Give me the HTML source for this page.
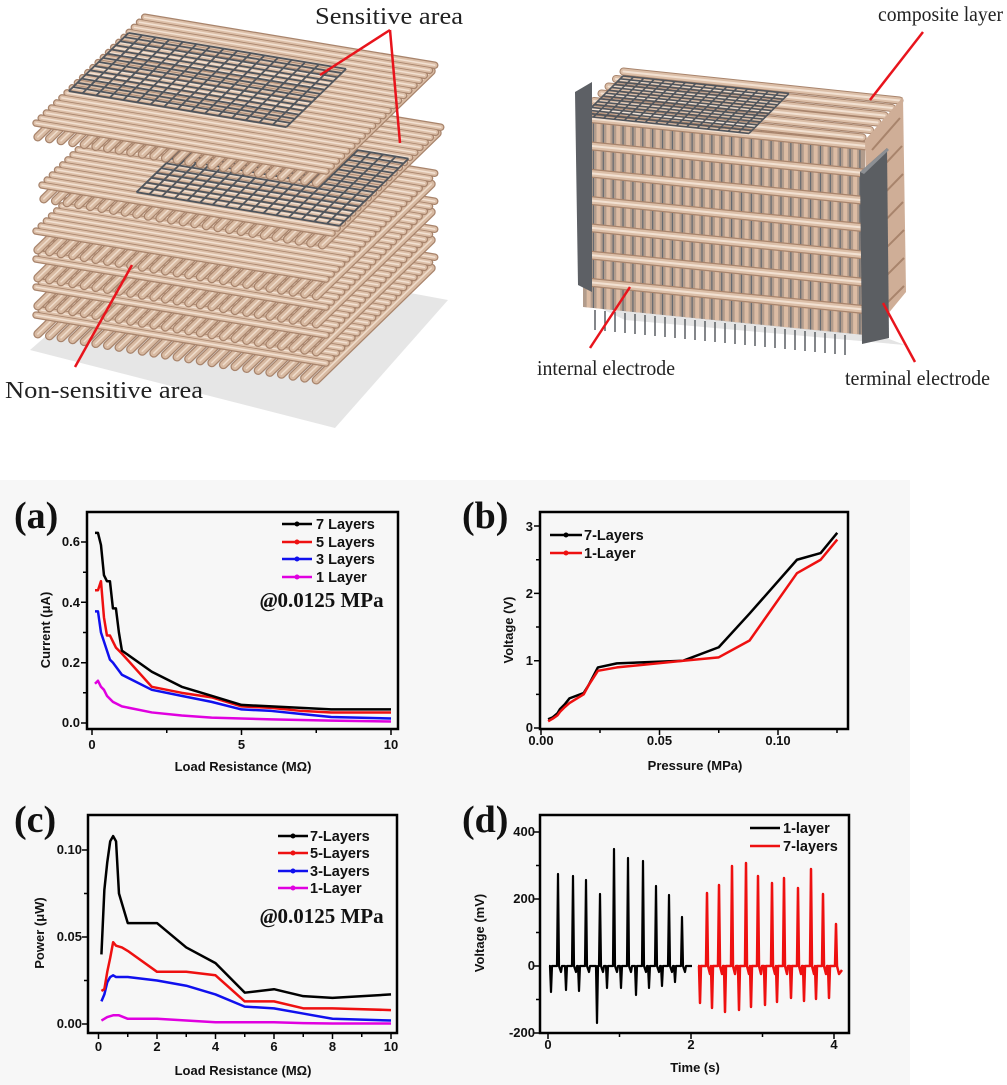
<!DOCTYPE html>
<html><head><meta charset="utf-8"><style>
html,body{margin:0;padding:0;background:#fff}
svg{display:block}
.t{font-family:"Liberation Sans",sans-serif;font-weight:bold;font-size:13px;fill:#111}
.lg{font-family:"Liberation Sans",sans-serif;font-weight:bold;font-size:14.5px;fill:#111}
.pl{font-family:"Liberation Serif",serif;font-weight:bold;font-size:38px;fill:#111}
.mp{font-family:"Liberation Serif",serif;font-weight:bold;font-size:21px;fill:#111}
.lab{font-family:"Liberation Serif",serif;font-size:24px;fill:#222}
.ns{fill:none;vector-effect:non-scaling-stroke;stroke-linejoin:round}
</style></head><body>
<svg width="1007" height="1085" viewBox="0 0 1007 1085" xmlns="http://www.w3.org/2000/svg">
<defs>
<path id="rodsU" class="ns" stroke-linecap="round" d="M0,0.02H1M0,0.065H1M0,0.11H1M0,0.155H1M0,0.2H1M0,0.245H1M0,0.29H1M0,0.335H1M0,0.38H1M0,0.425H1M0,0.47H1M0,0.515H1M0,0.56H1M0,0.605H1M0,0.65H1M0,0.695H1M0,0.74H1M0,0.785H1M0,0.83H1M0,0.875H1M0,0.92H1M0,0.965H1"/>
<path id="rodsV" class="ns" stroke-linecap="round" d="M0.02,0V1M0.06,0V1M0.1,0V1M0.14,0V1M0.18,0V1M0.22,0V1M0.26,0V1M0.3,0V1M0.34,0V1M0.38,0V1M0.42,0V1M0.46,0V1M0.5,0V1M0.54,0V1M0.58,0V1M0.62,0V1M0.66,0V1M0.7,0V1M0.74,0V1M0.78,0V1M0.82,0V1M0.86,0V1M0.9,0V1M0.94,0V1M0.98,0V1"/>
<path id="grid" class="ns" d="M0,0H1M0,0.0714H1M0,0.143H1M0,0.214H1M0,0.286H1M0,0.357H1M0,0.429H1M0,0.5H1M0,0.571H1M0,0.643H1M0,0.714H1M0,0.786H1M0,0.857H1M0,0.929H1M0,1H1M0,0V1M0.0625,0V1M0.125,0V1M0.1875,0V1M0.25,0V1M0.3125,0V1M0.375,0V1M0.4375,0V1M0.5,0V1M0.5625,0V1M0.625,0V1M0.6875,0V1M0.75,0V1M0.8125,0V1M0.875,0V1M0.9375,0V1M1,0V1"/>
<g id="layU"><use href="#rodsU" stroke="#a8846c" stroke-width="7.5"/><use href="#rodsU" stroke="#dcbfa8" stroke-width="5"/><use href="#rodsU" stroke="#f2e1d2" stroke-width="1.5"/></g>
<g id="layV"><use href="#rodsV" stroke="#a8846c" stroke-width="9"/><use href="#rodsV" stroke="#d8baa2" stroke-width="6.5"/><use href="#rodsV" stroke="#efdccb" stroke-width="1.5"/></g>
<path id="rows" class="ns" stroke-linecap="round" d="M0,0.03H1M0,0.17H1M0,0.31H1M0,0.45H1M0,0.59H1M0,0.73H1M0,0.87H1"/>
<path id="vr" class="ns" d="M0.02,0V1M0.055,0V1M0.09,0V1M0.125,0V1M0.16,0V1M0.195,0V1M0.23,0V1M0.265,0V1M0.3,0V1M0.335,0V1M0.37,0V1M0.405,0V1M0.44,0V1M0.475,0V1M0.51,0V1M0.545,0V1M0.58,0V1M0.615,0V1M0.65,0V1M0.685,0V1M0.72,0V1M0.755,0V1M0.79,0V1M0.825,0V1M0.86,0V1M0.895,0V1M0.93,0V1M0.965,0V1"/>
<path id="rodsT" class="ns" stroke-linecap="round" d="M0,0.08H1M0,0.25H1M0,0.42H1M0,0.58H1M0,0.75H1M0,0.92H1"/>
</defs>
<rect width="1007" height="1085" fill="#fff"/>

<polygon points="30,350 150,245 448,300 335,428" fill="#e6e6e6"/>
<use href="#layV" transform="matrix(290,48,-115,112,147,221)"/>
<use href="#layU" transform="matrix(290,48,-115,112,147,207)"/>
<use href="#layV" transform="matrix(290,48,-115,112,147,193)"/>
<use href="#layU" transform="matrix(290,48,-115,112,147,179)"/>
<use href="#layV" transform="matrix(290,48,-115,112,147,165)"/>
<use href="#layU" transform="matrix(290,48,-115,112,147,151)"/>
<use href="#layV" transform="matrix(290,48,-115,112,147,137)"/>
<use href="#layU" transform="matrix(290,48,-115,112,147,123)"/>
<use href="#grid" stroke="#50555c" stroke-width="1.8" transform="matrix(188.5,31.2,-40.25,39.2,176,127.8)"/>
<use href="#layV" transform="matrix(290,48,-115,112,153,86)"/>
<use href="#layU" transform="matrix(290,48,-115,112,153,77)"/>
<use href="#grid" stroke="#50555c" stroke-width="1.8" transform="matrix(203,33.6,-69,67.2,205.5,125)"/>
<use href="#layV" transform="matrix(290,48,-115,112,147,24)"/>
<use href="#layU" transform="matrix(290,48,-115,112,147,15)"/>
<use href="#grid" stroke="#50555c" stroke-width="1.8" transform="matrix(217.5,36,-59.8,58.2,128.6,32.9)"/>
<g stroke="#e8141c" stroke-width="2.5" fill="none">
<line x1="390" y1="30" x2="320" y2="75"/><line x1="390" y1="30" x2="400" y2="143"/>
<line x1="132" y1="265" x2="75" y2="367"/>
</g>
<text class="lab" x="315" y="24" textLength="148" lengthAdjust="spacingAndGlyphs">Sensitive area</text>
<text class="lab" x="5" y="398" textLength="198" lengthAdjust="spacingAndGlyphs">Non-sensitive area</text>

<polygon points="583,300 865,330 905,345 625,320" fill="#e4e4e4"/>
<g transform="matrix(282,28,0,195,583,112)">
<rect x="0" y="0" width="1" height="1" fill="#b29c8c"/>
<use href="#vr" stroke="#dcbca4" stroke-width="4"/>
<use href="#vr" stroke="#666a70" stroke-width="1.2" transform="translate(0.017,0)"/>
<use href="#rows" stroke="#a8846c" stroke-width="9"/>
<use href="#rows" stroke="#dcbfa8" stroke-width="6.5"/>
<use href="#rows" stroke="#f2e1d2" stroke-width="2"/>
</g>
<g stroke="#5a5e63" stroke-width="1.5">
<path d="M595,310V330M605,311V331M615,312V332M625,313V333M635,314V334M645,315V335M655,316V336M665,317V337M675,318V338M685,319V339M695,320V340M705,321V341M715,322V342M725,323V343M735,324V344M745,325V345M755,326V346M765,327V347M775,328V348M785,329V349M795,330V350M805,331V351M815,332V352M825,333V353M835,334V354M845,335V355"/>
</g>
<g transform="matrix(276,29,-44,44,627,68)">
<use href="#rodsT" stroke="#a8846c" stroke-width="8"/>
<use href="#rodsT" stroke="#dcbfa8" stroke-width="6"/>
<use href="#rodsT" stroke="#f2e1d2" stroke-width="2"/>
</g>
<use href="#grid" stroke="#50555c" stroke-width="1.6" transform="matrix(166,17.4,-40,40,623,76)"/>
<polygon points="865,140 903,97 906,292 869,337" fill="#cfae97"/>
<g stroke="#a8846c" stroke-width="2" fill="none">
<path d="M872,150l28,-32M872,178l30,-32M872,206l31,-32M872,234l31,-32M872,262l32,-32M872,290l32,-32M872,318l32,-32"/>
</g>
<polygon points="575,92 592,82 592,292 578,285" fill="#5d6065"/>
<polygon points="860,172 887,148 889,338 862,344" fill="#5b5e62"/>
<polygon points="860,172 887,148 889,150 864,174" fill="#8c8f93"/>
<g stroke="#e8141c" stroke-width="2.5" fill="none">
<line x1="923" y1="32" x2="870" y2="100"/>
<line x1="590" y1="348" x2="630" y2="287"/>
<line x1="915" y1="362" x2="883" y2="303"/>
</g>
<text class="lab" x="878" y="21" textLength="125" lengthAdjust="spacingAndGlyphs" style="font-size:21px">composite layer</text>
<text class="lab" x="537" y="375" textLength="138" lengthAdjust="spacingAndGlyphs" style="font-size:21px">internal electrode</text>
<text class="lab" x="845" y="385" textLength="145" lengthAdjust="spacingAndGlyphs" style="font-size:21px">terminal electrode</text>

<rect x="0" y="480" width="910" height="605" fill="#f7f7f7"/>

<text class="pl" x="14" y="528">(a)</text>
<g stroke="#000" stroke-width="1.5">
<path d="M92,729v6M166.75,729v4M241.5,729v6M316.25,729v4M391,729v6"/>
<path d="M87,723h-6M87,692.8h-4M87,662.7h-6M87,632.5h-4M87,602.3h-6M87,572.2h-4M87,542h-6"/>
</g>
<rect x="87" y="512" width="311" height="217" fill="none" stroke="#000" stroke-width="2.5"/>
<text class="t" x="80" y="727" text-anchor="end">0.0</text>
<text class="t" x="80" y="667" text-anchor="end">0.2</text>
<text class="t" x="80" y="607" text-anchor="end">0.4</text>
<text class="t" x="80" y="546" text-anchor="end">0.6</text>
<text class="t" x="92" y="749" text-anchor="middle">0</text>
<text class="t" x="241.5" y="749" text-anchor="middle">5</text>
<text class="t" x="391" y="749" text-anchor="middle">10</text>
<text class="t" x="243" y="771" text-anchor="middle">Load Resistance (MΩ)</text>
<text class="t" transform="translate(50,630) rotate(-90)" text-anchor="middle">Current (μA)</text>
<g transform="translate(92,723) scale(29.9,-301.7)">
<polyline class="ns" stroke="#e000e0" stroke-width="2.5" points="0.1,0.13 0.2,0.14 0.3,0.12 0.4,0.11 0.5,0.09 0.7,0.07 1,0.055 2,0.035 3,0.025 4,0.018 5,0.015 6,0.012 7,0.01 8,0.008 10,0.005"/>
<polyline class="ns" stroke="#1010ee" stroke-width="2.5" points="0.1,0.37 0.2,0.37 0.3,0.3 0.4,0.27 0.5,0.24 0.6,0.21 0.7,0.2 1,0.16 2,0.11 3,0.09 4,0.07 5,0.045 6,0.04 7,0.03 8,0.02 10,0.015"/>
<polyline class="ns" stroke="#ee1010" stroke-width="2.5" points="0.1,0.44 0.2,0.44 0.3,0.47 0.4,0.35 0.5,0.29 0.6,0.29 0.7,0.27 0.8,0.25 1,0.23 2,0.12 3,0.1 4,0.085 5,0.055 6,0.05 7,0.04 8,0.035 10,0.035"/>
<polyline class="ns" stroke="#000" stroke-width="2.5" points="0.1,0.63 0.2,0.63 0.3,0.59 0.4,0.49 0.5,0.47 0.6,0.47 0.7,0.38 0.8,0.38 0.9,0.3 1,0.24 2,0.17 3,0.12 4,0.09 5,0.06 6,0.055 7,0.05 8,0.045 10,0.045"/>
</g>
<g stroke-width="2.5">
<line x1="282" y1="524" x2="312" y2="524" stroke="#000"/><circle cx="297" cy="524" r="2.5"/>
<line x1="282" y1="542" x2="312" y2="542" stroke="#ee1010"/><circle cx="297" cy="542" r="2.5" fill="#ee1010"/>
<line x1="282" y1="559" x2="312" y2="559" stroke="#1010ee"/><circle cx="297" cy="559" r="2.5" fill="#1010ee"/>
<line x1="282" y1="577" x2="312" y2="577" stroke="#e000e0"/><circle cx="297" cy="577" r="2.5" fill="#e000e0"/>
</g>
<text class="lg" x="316" y="529">7 Layers</text>
<text class="lg" x="316" y="547">5 Layers</text>
<text class="lg" x="316" y="564">3 Layers</text>
<text class="lg" x="316" y="582">1 Layer</text>
<text class="mp" x="260" y="607"><tspan font-style="italic">@</tspan>0.0125 MPa</text>

<text class="pl" x="462" y="528">(b)</text>
<g stroke="#000" stroke-width="1.5">
<path d="M541,729v6M600,729v4M659.5,729v6M718.75,729v4M778,729v6M837,729v4"/>
<path d="M540,728h-6M540,694.4h-4M540,660.7h-6M540,627h-4M540,593.4h-6M540,559.7h-4M540,526h-6"/>
</g>
<rect x="540" y="512" width="308" height="217" fill="none" stroke="#000" stroke-width="2.5"/>
<text class="t" x="533" y="732" text-anchor="end">0</text>
<text class="t" x="533" y="665" text-anchor="end">1</text>
<text class="t" x="533" y="598" text-anchor="end">2</text>
<text class="t" x="533" y="531" text-anchor="end">3</text>
<text class="t" x="541" y="745" text-anchor="middle">0.00</text>
<text class="t" x="659.5" y="745" text-anchor="middle">0.05</text>
<text class="t" x="778" y="745" text-anchor="middle">0.10</text>
<text class="t" x="695" y="770" text-anchor="middle">Pressure (MPa)</text>
<text class="t" transform="translate(513,630) rotate(-90)" text-anchor="middle">Voltage (V)</text>
<g transform="translate(541,728) scale(2370,-67.3)">
<polyline class="ns" stroke="#000" stroke-width="2.5" points="0.003,0.13 0.005,0.16 0.007,0.22 0.008,0.28 0.01,0.35 0.012,0.44 0.018,0.52 0.02,0.63 0.024,0.9 0.032,0.96 0.06,1 0.075,1.2 0.088,1.7 0.108,2.5 0.118,2.6 0.125,2.9"/>
<polyline class="ns" stroke="#ee1010" stroke-width="2.5" points="0.003,0.1 0.005,0.14 0.007,0.19 0.008,0.24 0.01,0.31 0.012,0.37 0.018,0.5 0.02,0.63 0.024,0.85 0.032,0.9 0.06,1 0.075,1.05 0.088,1.3 0.108,2.3 0.118,2.5 0.125,2.8"/>
</g>
<g stroke-width="2.5">
<line x1="550" y1="535" x2="582" y2="535" stroke="#000"/><circle cx="566" cy="535" r="2.5"/>
<line x1="550" y1="553" x2="582" y2="553" stroke="#ee1010"/><circle cx="566" cy="553" r="2.5" fill="#ee1010"/>
</g>
<text class="lg" x="584" y="540">7-Layers</text>
<text class="lg" x="584" y="558">1-Layer</text>

<text class="pl" x="14" y="832">(c)</text>
<g stroke="#000" stroke-width="1.5">
<path d="M98.5,1033v6M127.75,1033v4M157,1033v6M186.25,1033v4M215.5,1033v6M244.75,1033v4M274,1033v6M303.25,1033v4M332.5,1033v6M361.75,1033v4M391,1033v6"/>
<path d="M88,1024h-6M88,980.5h-4M88,937h-6M88,893.5h-4M88,850h-6"/>
</g>
<rect x="88" y="815" width="309" height="218" fill="none" stroke="#000" stroke-width="2.5"/>
<text class="t" x="82" y="1028" text-anchor="end">0.00</text>
<text class="t" x="82" y="941" text-anchor="end">0.05</text>
<text class="t" x="82" y="854" text-anchor="end">0.10</text>
<text class="t" x="98.5" y="1051" text-anchor="middle">0</text>
<text class="t" x="157" y="1051" text-anchor="middle">2</text>
<text class="t" x="215.5" y="1051" text-anchor="middle">4</text>
<text class="t" x="274" y="1051" text-anchor="middle">6</text>
<text class="t" x="332.5" y="1051" text-anchor="middle">8</text>
<text class="t" x="391" y="1051" text-anchor="middle">10</text>
<text class="t" x="243" y="1075" text-anchor="middle">Load Resistance (MΩ)</text>
<text class="t" transform="translate(44,933) rotate(-90)" text-anchor="middle">Power (μW)</text>
<g transform="translate(98.5,1024) scale(29.25,-1740)">
<polyline class="ns" stroke="#e000e0" stroke-width="2.5" points="0.1,0.002 0.2,0.003 0.3,0.004 0.5,0.005 0.7,0.005 1,0.003 2,0.003 3,0.002 4,0.001 5,0.001 6,0.001 7,0.0005 8,0.0003 10,0.0003"/>
<polyline class="ns" stroke="#1010ee" stroke-width="2.5" points="0.1,0.013 0.2,0.017 0.3,0.024 0.4,0.027 0.5,0.028 0.6,0.027 0.8,0.027 1,0.027 2,0.025 3,0.022 4,0.017 5,0.01 6,0.009 7,0.006 8,0.003 10,0.002"/>
<polyline class="ns" stroke="#ee1010" stroke-width="2.5" points="0.1,0.019 0.2,0.02 0.3,0.03 0.4,0.038 0.5,0.047 0.6,0.045 0.8,0.044 1,0.042 2,0.03 3,0.03 4,0.028 5,0.013 6,0.013 7,0.009 8,0.009 10,0.008"/>
<polyline class="ns" stroke="#000" stroke-width="2.5" points="0.1,0.04 0.2,0.077 0.3,0.093 0.4,0.105 0.5,0.108 0.6,0.105 0.7,0.075 1,0.058 2,0.058 3,0.044 4,0.035 5,0.018 6,0.02 7,0.016 8,0.015 10,0.017"/>
</g>
<g stroke-width="2.5">
<line x1="278" y1="836" x2="308" y2="836" stroke="#000"/><circle cx="293" cy="836" r="2.5"/>
<line x1="278" y1="853" x2="308" y2="853" stroke="#ee1010"/><circle cx="293" cy="853" r="2.5" fill="#ee1010"/>
<line x1="278" y1="871" x2="308" y2="871" stroke="#1010ee"/><circle cx="293" cy="871" r="2.5" fill="#1010ee"/>
<line x1="278" y1="888" x2="308" y2="888" stroke="#e000e0"/><circle cx="293" cy="888" r="2.5" fill="#e000e0"/>
</g>
<text class="lg" x="310" y="841">7-Layers</text>
<text class="lg" x="310" y="858">5-Layers</text>
<text class="lg" x="310" y="876">3-Layers</text>
<text class="lg" x="310" y="893">1-Layer</text>
<text class="mp" x="260" y="923"><tspan font-style="italic">@</tspan>0.0125 MPa</text>

<text class="pl" x="462" y="832">(d)</text>
<g stroke="#000" stroke-width="1.5">
<path d="M548,1033v6M619.5,1033v4M691,1033v6M762.5,1033v4M834,1033v6"/>
<path d="M540,1033h-6M540,999.5h-4M540,966h-6M540,932.5h-4M540,899h-6M540,865.5h-4M540,832h-6"/>
</g>
<rect x="540" y="815" width="309" height="218" fill="none" stroke="#000" stroke-width="2.5"/>
<text class="t" x="535" y="1037" text-anchor="end">-200</text>
<text class="t" x="535" y="970" text-anchor="end">0</text>
<text class="t" x="535" y="903" text-anchor="end">200</text>
<text class="t" x="535" y="836" text-anchor="end">400</text>
<text class="t" x="548" y="1049" text-anchor="middle">0</text>
<text class="t" x="691" y="1049" text-anchor="middle">2</text>
<text class="t" x="834" y="1049" text-anchor="middle">4</text>
<text class="t" x="695" y="1072" text-anchor="middle">Time (s)</text>
<text class="t" transform="translate(484,933) rotate(-90)" text-anchor="middle">Voltage (mV)</text>
<path fill="none" stroke="#000" stroke-width="2.2" stroke-linejoin="round" d="M549,966 L550,966 L551,992 L552,966 L557,966 L558,874 L559,966 L561,972 L562,966 L565,966 L566,990 L567,966 L572,966 L573,876 L574,966 L576,972 L577,966 L578,966 L579,991 L580,966 L585,966 L586,880 L587,966 L589,972 L590,966 L596,966 L597,1023 L598,966 L599,966 L600,894 L601,966 L603,972 L604,966 L606,966 L607,988 L608,966 L613,966 L614,849 L615,966 L617,972 L618,966 L620,966 L621,988 L622,966 L627,966 L628,858 L629,966 L631,972 L632,966 L635,966 L636,995 L637,966 L642,966 L643,861 L644,966 L646,972 L647,966 L648,966 L649,988 L650,966 L655,966 L656,886 L657,966 L659,972 L660,966 L661,966 L662,986 L663,966 L668,966 L669,895 L670,966 L672,972 L673,966 L674,966 L675,982 L676,966 L681,966 L682,917 L683,966 L685,972 L686,966 L692,966"/>
<path fill="none" stroke="#ee1010" stroke-width="2.5" stroke-linejoin="round" d="M698,966 L699,966 L700,1003 L701,966 L706,966 L707,893 L708,966 L710,974 L711,966 L712,1008 L713,966 L718,966 L719,885 L720,966 L722,974 L723,966 L724,966 L725,1012 L726,966 L731,966 L732,866 L733,966 L735,974 L736,966 L738,966 L739,1010 L740,966 L745,966 L746,863 L747,966 L749,974 L750,966 L751,1007 L752,966 L757,966 L758,876 L759,966 L761,974 L762,966 L764,966 L765,1005 L766,966 L771,966 L772,883 L773,966 L775,974 L776,966 L777,1002 L778,966 L783,966 L784,878 L785,966 L787,974 L788,966 L790,966 L791,998 L792,966 L797,966 L798,888 L799,966 L801,974 L802,966 L803,966 L804,1001 L805,966 L810,966 L811,869 L812,966 L814,974 L815,966 L816,999 L817,966 L822,966 L823,894 L824,966 L826,974 L827,966 L828,966 L829,998 L830,966 L835,966 L836,924 L837,966 L839,974 L842,970"/>
<line x1="750" y1="828" x2="780" y2="828" stroke="#000" stroke-width="2.5"/>
<line x1="750" y1="846" x2="780" y2="846" stroke="#ee1010" stroke-width="2.5"/>
<text class="lg" x="783" y="833">1-layer</text>
<text class="lg" x="783" y="851">7-layers</text>
</svg>
</body></html>
